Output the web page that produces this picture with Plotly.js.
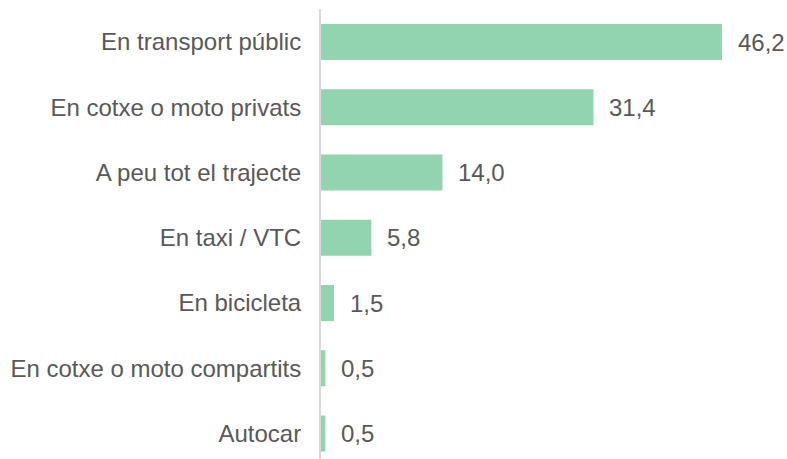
<!DOCTYPE html>
<html>
<head>
<meta charset="utf-8">
<script src="https://cdn.plot.ly/plotly-3.0.1.min.js"></script>
<style>html,body{margin:0;padding:0;background:#fff;}</style>
</head>
<body>
<div id="chart" style="width:787px;height:459px;"></div>
<script>
const categories = ["En transport públic", "En cotxe o moto privats", "A peu tot el trajecte", "En taxi / VTC", "En bicicleta", "En cotxe o moto compartits", "Autocar"];
const values = [46.2, 31.4, 14.0, 5.8, 1.5, 0.5, 0.5];
const valueLabels = values.map(v => v.toFixed(1).replace('.', ','));

const FONT = 'Liberation Sans, Arial, sans-serif';
const TXT = '#595959';

const trace = {
  type: 'bar',
  orientation: 'h',
  x: values,
  y: categories,
  marker: {color: '#92D4B0'},
  width: 0.552,
  hoverinfo: 'none'
};

const annotations = values.map((v, i) => ({
  x: v, y: categories[i], xref: 'x', yref: 'y',
  text: valueLabels[i], showarrow: false, xanchor: 'left', yanchor: 'middle',
  xshift: 14,
  font: {family: FONT, size: 24, color: TXT}
}));

const layout = {
  width: 787, height: 459,
  margin: {l: 321, r: 0, t: 9, b: 0, pad: 0},
  paper_bgcolor: '#ffffff', plot_bgcolor: '#ffffff',
  showlegend: false,
  font: {family: FONT, size: 24, color: TXT},
  xaxis: {range: [0, 53.7], visible: false, fixedrange: true},
  yaxis: {
    type: 'category',
    range: [6.39, -0.506],
    showline: true, linecolor: '#d9d9d9', linewidth: 2,
    showgrid: false, zeroline: false, ticks: '',
    ticklabelstandoff: 13,
    tickfont: {family: FONT, size: 24, color: TXT}
  },
  annotations: annotations
};

Plotly.newPlot('chart', [trace], layout, {displayModeBar: false, staticPlot: true});
</script>
</body>
</html>
